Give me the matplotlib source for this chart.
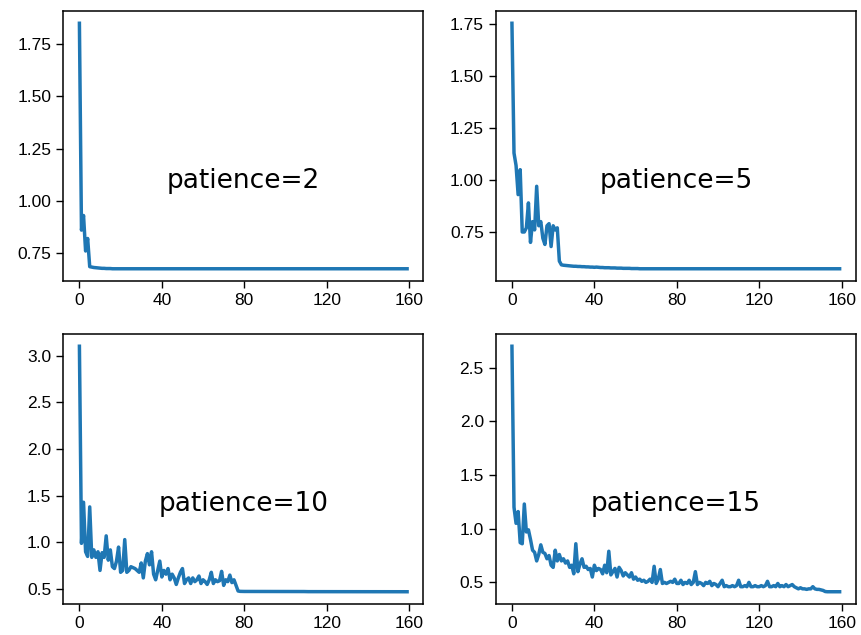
import numpy as np
import matplotlib
matplotlib.use("Agg")
import matplotlib.pyplot as plt

# validation loss per epoch for each early-stopping patience
loss_p2 = [
    1.85, 0.86, 0.93, 0.76, 0.82, 0.685, 0.683, 0.681, 0.680, 0.679,
    0.678, 0.677, 0.677, 0.676, 0.676, 0.676, 0.675, 0.675, 0.675, 0.675,
    0.675, 0.675, 0.675, 0.675, 0.675, 0.675, 0.675, 0.675, 0.675, 0.675,
    0.675, 0.675, 0.675, 0.675, 0.675, 0.675, 0.675, 0.675, 0.675, 0.675,
    0.675, 0.675, 0.675, 0.675, 0.675, 0.675, 0.675, 0.675, 0.675, 0.675,
    0.675, 0.675, 0.675, 0.675, 0.675, 0.675, 0.675, 0.675, 0.675, 0.675,
    0.675, 0.675, 0.675, 0.675, 0.675, 0.675, 0.675, 0.675, 0.675, 0.675,
    0.675, 0.675, 0.675, 0.675, 0.675, 0.675, 0.675, 0.675, 0.675, 0.675,
    0.675, 0.675, 0.675, 0.675, 0.675, 0.675, 0.675, 0.675, 0.675, 0.675,
    0.675, 0.675, 0.675, 0.675, 0.675, 0.675, 0.675, 0.675, 0.675, 0.675,
    0.675, 0.675, 0.675, 0.675, 0.675, 0.675, 0.675, 0.675, 0.675, 0.675,
    0.675, 0.675, 0.675, 0.675, 0.675, 0.675, 0.675, 0.675, 0.675, 0.675,
    0.675, 0.675, 0.675, 0.675, 0.675, 0.675, 0.675, 0.675, 0.675, 0.675,
    0.675, 0.675, 0.675, 0.675, 0.675, 0.675, 0.675, 0.675, 0.675, 0.675,
    0.675, 0.675, 0.675, 0.675, 0.675, 0.675, 0.675, 0.675, 0.675, 0.675,
    0.675, 0.675, 0.675, 0.675, 0.675, 0.675, 0.675, 0.675, 0.675, 0.675,
]

loss_p5 = [
    1.755, 1.13, 1.07, 0.93, 1.05, 0.75, 0.75, 0.77, 0.89, 0.70,
    0.80, 0.76, 0.97, 0.78, 0.80, 0.72, 0.69, 0.78, 0.79, 0.68,
    0.78, 0.76, 0.77, 0.61, 0.592, 0.590, 0.589, 0.588, 0.587, 0.586,
    0.585, 0.585, 0.584, 0.584, 0.583, 0.583, 0.582, 0.582, 0.581, 0.581,
    0.580, 0.581, 0.580, 0.579, 0.579, 0.578, 0.578, 0.578, 0.577, 0.577,
    0.577, 0.576, 0.576, 0.576, 0.575, 0.575, 0.575, 0.575, 0.574, 0.574,
    0.574, 0.574, 0.573, 0.573, 0.573, 0.573, 0.573, 0.573, 0.573, 0.573,
    0.573, 0.573, 0.573, 0.573, 0.573, 0.573, 0.573, 0.573, 0.573, 0.573,
    0.573, 0.573, 0.573, 0.573, 0.573, 0.573, 0.573, 0.573, 0.573, 0.573,
    0.573, 0.573, 0.573, 0.573, 0.573, 0.573, 0.573, 0.573, 0.573, 0.573,
    0.573, 0.573, 0.573, 0.573, 0.573, 0.573, 0.573, 0.573, 0.573, 0.573,
    0.573, 0.573, 0.573, 0.573, 0.573, 0.573, 0.573, 0.573, 0.573, 0.573,
    0.573, 0.573, 0.573, 0.573, 0.573, 0.573, 0.573, 0.573, 0.573, 0.573,
    0.573, 0.573, 0.573, 0.573, 0.573, 0.573, 0.573, 0.573, 0.573, 0.573,
    0.573, 0.573, 0.573, 0.573, 0.573, 0.573, 0.573, 0.573, 0.573, 0.573,
    0.573, 0.573, 0.573, 0.573, 0.573, 0.573, 0.573, 0.573, 0.573, 0.573,
]

loss_p10 = [
    3.10, 0.99, 1.43, 0.90, 0.85, 1.38, 0.84, 0.92, 0.84, 0.90,
    0.70, 0.89, 0.84, 1.07, 0.81, 0.92, 0.74, 0.72, 0.80, 0.95,
    0.68, 0.70, 1.03, 0.68, 0.70, 0.74, 0.73, 0.72, 0.70, 0.68,
    0.78, 0.62, 0.80, 0.88, 0.76, 0.90, 0.66, 0.60, 0.70, 0.80,
    0.63, 0.70, 0.66, 0.72, 0.60, 0.66, 0.62, 0.55, 0.62, 0.68,
    0.72, 0.56, 0.60, 0.62, 0.56, 0.62, 0.58, 0.60, 0.64, 0.56,
    0.60, 0.58, 0.55, 0.60, 0.68, 0.56, 0.60, 0.58, 0.59, 0.69,
    0.54, 0.60, 0.58, 0.65, 0.57, 0.60, 0.54, 0.48, 0.476, 0.475,
    0.475, 0.475, 0.475, 0.475, 0.475, 0.475, 0.475, 0.475, 0.475, 0.475,
    0.474, 0.474, 0.474, 0.474, 0.474, 0.474, 0.474, 0.474, 0.474, 0.474,
    0.474, 0.474, 0.474, 0.474, 0.474, 0.474, 0.474, 0.474, 0.474, 0.474,
    0.473, 0.473, 0.473, 0.473, 0.473, 0.473, 0.473, 0.473, 0.473, 0.473,
    0.473, 0.473, 0.473, 0.473, 0.473, 0.473, 0.473, 0.473, 0.473, 0.473,
    0.473, 0.473, 0.473, 0.473, 0.473, 0.473, 0.473, 0.473, 0.473, 0.473,
    0.472, 0.472, 0.472, 0.472, 0.472, 0.472, 0.472, 0.472, 0.472, 0.472,
    0.472, 0.472, 0.472, 0.472, 0.472, 0.472, 0.472, 0.472, 0.472, 0.472,
]

loss_p15 = [
    2.70, 1.20, 1.05, 1.16, 0.87, 0.86, 1.23, 0.97, 0.99, 0.90,
    0.80, 0.78, 0.70, 0.76, 0.85, 0.78, 0.77, 0.72, 0.75, 0.66,
    0.64, 0.80, 0.70, 0.76, 0.70, 0.72, 0.68, 0.70, 0.64, 0.66,
    0.58, 0.86, 0.60, 0.67, 0.72, 0.64, 0.65, 0.62, 0.63, 0.55,
    0.66, 0.61, 0.63, 0.62, 0.58, 0.66, 0.59, 0.79, 0.57, 0.60,
    0.63, 0.55, 0.64, 0.61, 0.56, 0.59, 0.57, 0.55, 0.59, 0.53,
    0.55, 0.52, 0.53, 0.51, 0.52, 0.50, 0.51, 0.53, 0.50, 0.65,
    0.49, 0.53, 0.62, 0.49, 0.50, 0.49, 0.50, 0.51, 0.50, 0.53,
    0.49, 0.49, 0.52, 0.48, 0.50, 0.49, 0.52, 0.48, 0.50, 0.60,
    0.48, 0.50, 0.49, 0.47, 0.50, 0.49, 0.51, 0.47, 0.49, 0.48,
    0.46, 0.49, 0.52, 0.46, 0.47, 0.46, 0.46, 0.47, 0.46, 0.47,
    0.52, 0.46, 0.46, 0.47, 0.46, 0.50, 0.46, 0.46, 0.47, 0.46,
    0.46, 0.47, 0.46, 0.47, 0.51, 0.46, 0.46, 0.47, 0.46, 0.49,
    0.46, 0.47, 0.46, 0.48, 0.46, 0.47, 0.48, 0.46, 0.45, 0.44,
    0.45, 0.44, 0.44, 0.435, 0.44, 0.44, 0.46, 0.44, 0.435, 0.435,
    0.43, 0.425, 0.415, 0.413, 0.413, 0.413, 0.413, 0.413, 0.413, 0.413,
]

curves = [loss_p2, loss_p5, loss_p10, loss_p15]
labels = ["patience=2", "patience=5", "patience=10", "patience=15"]
yticks = [
    [0.75, 1.00, 1.25, 1.50, 1.75],
    [0.75, 1.00, 1.25, 1.50, 1.75],
    [0.5, 1.0, 1.5, 2.0, 2.5, 3.0],
    [0.5, 1.0, 1.5, 2.0, 2.5],
]
xticks = [0, 40, 80, 120, 160]

plt.rcParams["font.family"] = ["Liberation Sans", "DejaVu Sans"]

fig = plt.figure(figsize=(8.61, 6.35), dpi=100)
fig.subplots_adjust(left=0.0732, right=0.9942, top=0.9827, bottom=0.0488,
                    wspace=0.2, hspace=0.196)

for k in range(4):
    ax = plt.subplot(2, 2, k + 1)
    loss = np.array(curves[k])
    ax.plot(np.arange(len(loss)), loss, color="#1f77b4", lw=2.5)
    ax.set_xticks(xticks)
    ax.set_yticks(yticks[k])
    ax.tick_params(labelsize=12.5, length=5, width=1, colors="black")
    for s in ax.spines.values():
        s.set_linewidth(1.1)
    ax.text(0.5, 0.37, labels[k], transform=ax.transAxes, ha="center",
            va="center", fontsize=19, family="DejaVu Sans")

plt.savefig("out.png", dpi=100)
